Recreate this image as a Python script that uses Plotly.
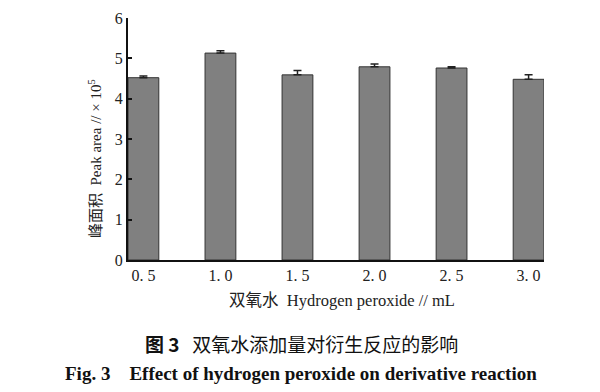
import plotly.graph_objects as go

categories = ["0. 5", "1. 0", "1. 5", "2. 0", "2. 5", "3. 0"]
peak_area = [4.52, 5.13, 4.59, 4.79, 4.76, 4.48]
errors = [0.04, 0.06, 0.11, 0.07, 0.03, 0.11]
y_ticks = [0, 1, 2, 3, 4, 5, 6]

serif = "Liberation Serif, Times New Roman, serif"
cjk = "Liberation Serif, Noto Sans CJK SC, serif"

# plot area geometry (pixels) used to place the caption/titles
L, T, W, H = 128, 18, 416, 242


def px(x):
    return (x - L) / W


def py(y):
    return (T + H - y) / H


fig = go.Figure()
fig.add_trace(go.Bar(
    x=list(range(len(categories))),
    y=peak_area,
    width=0.4,
    marker=dict(color="#808080", line=dict(color="#333333", width=1)),
    error_y=dict(type="data", symmetric=False, array=errors,
                 arrayminus=[0] * len(errors), color="#222222",
                 thickness=1.5, width=4),
))

fig.update_layout(
    width=600, height=392,
    margin=dict(l=L, r=600 - L - W, t=T, b=392 - T - H, autoexpand=False),
    paper_bgcolor="white", plot_bgcolor="white",
    showlegend=False,
    xaxis=dict(
        range=[-0.2, 5.2],
        tickmode="array", tickvals=list(range(len(categories))), ticktext=categories,
        showline=True, linecolor="#111111", linewidth=2,
        ticks="", showgrid=False, zeroline=False,
        tickfont=dict(family=serif, size=16, color="#222222"),
    ),
    yaxis=dict(
        range=[0, 6],
        tickmode="array", tickvals=y_ticks, ticktext=[str(v) for v in y_ticks],
        showline=True, linecolor="#111111", linewidth=2,
        ticks="inside", ticklen=4, tickwidth=1.5, tickcolor="#111111",
        showgrid=False, zeroline=False,
        tickfont=dict(family=serif, size=16, color="#222222"),
    ),
    annotations=[
        dict(text="峰面积  Peak area // × 10<sup>5</sup>",
             x=px(95), y=py(159), xref="paper", yref="paper", textangle=-90,
             showarrow=False, xanchor="center", yanchor="middle",
             font=dict(family=cjk, size=15, color="#222222")),
        dict(text="双氧水  Hydrogen peroxide // mL",
             x=px(342), y=py(300), xref="paper", yref="paper",
             showarrow=False, xanchor="center", yanchor="middle",
             font=dict(family=cjk, size=16.5, color="#222222")),
        dict(text="<b>图 3</b>   双氧水添加量对衍生反应的影响",
             x=px(301), y=py(343), xref="paper", yref="paper",
             showarrow=False, xanchor="center", yanchor="middle",
             font=dict(family="Noto Sans CJK SC, sans-serif", size=19, color="#111111")),
        dict(text="<b>Fig. 3    Effect of hydrogen peroxide on derivative reaction</b>",
             x=px(301), y=py(373), xref="paper", yref="paper",
             showarrow=False, xanchor="center", yanchor="middle",
             font=dict(family="Liberation Serif, serif", size=19, color="#111111")),
    ],
)

fig.write_html("out.html", config={"displayModeBar": False},
               post_script="document.body.style.margin='0';")
